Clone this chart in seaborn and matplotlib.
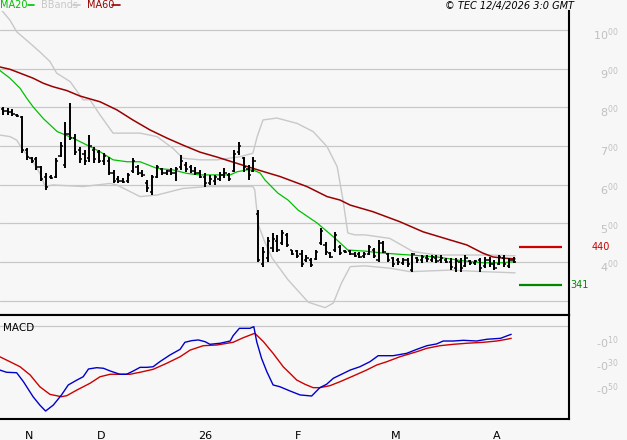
import matplotlib
matplotlib.use("Agg")
import matplotlib.pyplot as plt
import matplotlib.transforms as mtransforms
from matplotlib.lines import Line2D
import numpy as np
import pandas as pd
import seaborn as sns

# daily OHLC bars (one per session, left to right)
opens = [7.95, 7.90, 7.88, 7.80, 7.75, 6.90, 6.70, 6.65, 6.45, 6.20,
         6.20, 6.20, 6.75, 6.50, 7.30, 7.20, 6.90, 6.80, 6.70, 6.90,
         6.85, 6.60, 6.60, 6.30, 6.15, 6.10, 6.08, 6.35, 6.45, 6.30,
         6.05, 5.80, 6.20, 6.40, 6.30, 6.35, 6.30, 6.45, 6.50, 6.45,
         6.35, 6.30, 6.20, 6.05, 6.10, 6.15, 6.25, 6.25, 6.35, 6.85,
         6.70, 6.40, 6.35, 5.25, 3.95, 4.10, 4.35, 4.55, 4.50, 4.70,
         4.30, 4.28, 4.20, 4.05, 4.05, 4.08, 4.50, 4.45, 4.22, 4.30,
         4.40, 4.28, 4.28, 4.20, 4.20, 4.15, 4.20, 4.30, 4.05, 4.50,
         4.20, 4.10, 4.05, 3.98, 4.05, 3.80, 4.10, 4.05, 4.10, 4.05,
         4.10, 4.05, 4.05, 4.00, 3.85, 4.00, 3.90, 4.02, 3.97, 4.05,
         3.90, 4.05, 3.95, 3.95, 4.10, 3.90, 4.05]
highs = [8.01, 7.97, 7.95, 7.82, 7.77, 6.94, 6.72, 6.72, 6.48, 6.29,
         6.25, 6.68, 7.11, 7.63, 8.10, 7.32, 6.98, 6.90, 7.28, 6.98,
         6.90, 6.81, 6.72, 6.38, 6.21, 6.16, 6.29, 6.68, 6.51, 6.38,
         6.12, 6.25, 6.51, 6.42, 6.38, 6.42, 6.46, 6.77, 6.59, 6.51,
         6.46, 6.38, 6.29, 6.25, 6.25, 6.33, 6.42, 6.29, 6.89, 7.11,
         6.72, 6.51, 6.72, 5.34, 4.40, 4.65, 4.74, 4.70, 4.83, 4.74,
         4.31, 4.31, 4.31, 4.18, 4.10, 4.31, 4.88, 4.52, 4.27, 4.78,
         4.44, 4.31, 4.31, 4.27, 4.27, 4.27, 4.44, 4.35, 4.57, 4.55,
         4.22, 4.14, 4.10, 4.10, 4.10, 4.22, 4.14, 4.18, 4.18, 4.18,
         4.18, 4.18, 4.10, 4.10, 4.10, 4.10, 4.18, 4.05, 4.05, 4.10,
         4.14, 4.14, 4.05, 4.18, 4.18, 4.10, 4.14]
lows = [7.80, 7.80, 7.76, 7.75, 6.81, 6.64, 6.55, 6.38, 6.08, 5.86,
        6.14, 6.16, 6.72, 6.42, 7.15, 6.77, 6.55, 6.51, 6.59, 6.55,
        6.55, 6.51, 6.25, 6.03, 6.03, 6.03, 6.05, 6.29, 6.25, 6.20,
        5.82, 5.73, 6.16, 6.25, 6.25, 6.25, 6.08, 6.38, 6.33, 6.29,
        6.25, 6.16, 5.95, 5.99, 5.99, 6.08, 6.16, 6.08, 6.33, 6.76,
        6.33, 6.12, 6.33, 4.00, 3.88, 4.01, 4.27, 4.27, 4.44, 4.40,
        4.18, 4.10, 3.88, 4.01, 3.87, 4.05, 4.44, 4.18, 4.10, 4.27,
        4.18, 4.23, 4.18, 4.12, 4.10, 4.10, 4.18, 4.10, 4.00, 4.22,
        4.01, 3.88, 3.92, 3.92, 3.88, 3.75, 3.97, 3.97, 4.01, 4.01,
        3.97, 3.97, 3.97, 3.79, 3.75, 3.75, 3.88, 3.92, 3.92, 3.75,
        3.84, 3.88, 3.79, 3.92, 3.88, 3.84, 3.97]
closes = [7.90, 7.88, 7.82, 7.78, 6.90, 6.72, 6.60, 6.45, 6.15, 5.95,
          6.18, 6.60, 7.00, 7.30, 7.20, 6.85, 6.65, 6.60, 7.00, 6.65,
          6.60, 6.75, 6.30, 6.10, 6.08, 6.06, 6.25, 6.60, 6.30, 6.25,
          5.90, 6.20, 6.45, 6.30, 6.35, 6.30, 6.40, 6.60, 6.40, 6.35,
          6.30, 6.20, 6.05, 6.15, 6.20, 6.25, 6.30, 6.15, 6.80, 7.00,
          6.45, 6.25, 6.60, 4.05, 4.25, 4.55, 4.60, 4.30, 4.75, 4.45,
          4.20, 4.15, 3.95, 4.10, 3.92, 4.25, 4.80, 4.25, 4.12, 4.70,
          4.22, 4.25, 4.20, 4.15, 4.13, 4.20, 4.38, 4.15, 4.50, 4.25,
          4.05, 3.95, 4.00, 4.05, 3.95, 4.20, 4.05, 4.12, 4.08, 4.12,
          4.02, 4.10, 4.00, 3.88, 4.02, 3.85, 4.10, 3.97, 4.02, 3.85,
          4.05, 3.95, 3.85, 4.12, 3.95, 4.05, 4.00]

# MA20 / MA60 / Bollinger bands, read at (bar index, value)
ma20_idx = [-0.6, 1.5, 3.6, 5.0, 6.3, 8.4, 11.3, 14.6, 17.5, 20.2, 22.9, 25.8,
            28.5, 32.0, 35.3, 38.2, 40.9, 43.6, 47.2, 48.6, 50.7, 51.9, 53.4,
            54.4, 57.1, 59.2, 61.3, 65.2, 68.9, 71.6, 75.2, 78.9, 84.5, 90.1,
            95.5, 99.6, 103.8, 106.3]
ma20_val = [8.95, 8.75, 8.49, 8.23, 8.01, 7.71, 7.37, 7.20, 7.02, 6.85, 6.64, 6.59,
            6.59, 6.42, 6.38, 6.29, 6.25, 6.25, 6.25, 6.33, 6.38, 6.38, 6.30,
            6.12, 5.78, 5.60, 5.34, 5.01, 4.62, 4.31, 4.28, 4.23, 4.18, 4.13,
            4.03, 3.98, 3.98, 4.01]
ma60_idx = [-0.6, 1.5, 3.6, 6.3, 8.4, 10.4, 13.3, 16.0, 20.2, 23.7, 27.0, 30.6,
            34.1, 37.4, 40.9, 44.5, 47.8, 51.9, 54.8, 57.5, 63.1, 67.3, 70.0,
            72.1, 76.8, 82.4, 87.2, 92.8, 96.3, 99.6, 101.7, 103.8, 106.3]
ma60_val = [9.04, 8.98, 8.88, 8.75, 8.62, 8.53, 8.43, 8.29, 8.14, 7.93, 7.67, 7.41,
            7.20, 7.02, 6.84, 6.71, 6.58, 6.42, 6.31, 6.21, 5.95, 5.69, 5.60,
            5.47, 5.30, 5.04, 4.78, 4.57, 4.44, 4.23, 4.13, 4.10, 4.08]
bb_up_idx = [-0.6, 1.5, 2.9, 5.7, 7.7, 9.8, 11.2, 14.0, 16.7, 18.1, 20.2, 22.9,
             28.5, 32.0, 35.3, 37.4, 40.9, 44.5, 49.2, 51.9, 52.8, 54.0, 56.9,
             61.1, 64.4, 67.3, 69.4, 70.6, 71.6, 73.1, 75.2, 80.3, 85.1, 90.1,
             96.3, 101.1, 106.3]
bb_up_val = [10.56, 10.25, 9.95, 9.65, 9.43, 9.18, 8.88, 8.66, 8.19, 8.19, 7.80, 7.33,
             7.33, 7.24, 6.94, 6.68, 6.64, 6.64, 6.72, 6.81, 7.24, 7.67, 7.72,
             7.58, 7.37, 6.98, 6.46, 5.60, 4.75, 4.70, 4.70, 4.61, 4.27, 4.18,
             4.18, 4.18, 4.16]
bb_lo_idx = [-0.6, 1.5, 2.9, 4.2, 6.3, 7.7, 8.8, 10.4, 16.7, 22.3, 23.7, 28.5,
             32.0, 37.4, 42.4, 51.9, 52.3, 53.0, 54.2, 55.9, 59.2, 63.4, 66.9,
             68.6, 70.3, 72.1, 75.2, 80.3, 84.5, 92.8, 99.6, 106.3]
bb_lo_val = [7.28, 7.24, 7.15, 6.89, 6.59, 6.29, 5.95, 5.99, 5.95, 6.03, 5.99, 5.69,
             5.73, 5.90, 5.95, 5.95, 5.86, 4.98, 4.57, 4.10, 3.54, 2.96, 2.82,
             2.94, 3.46, 3.88, 3.90, 3.84, 3.75, 3.79, 3.75, 3.72]

# MACD and signal line, read at (bar index, value)
macd_idx = [-0.6, 0.8, 2.9, 4.3, 6.3, 7.7, 8.9, 10.5, 12.2, 13.6, 15.4, 16.7,
            17.8, 19.5, 20.9, 22.3, 24.3, 25.7, 27.1, 28.5, 29.9, 31.2, 32.6,
            34.7, 36.8, 37.8, 39.2, 40.6, 42.0, 43.0, 45.1, 47.2, 47.8, 49.1,
            51.3, 52.1, 52.7, 53.7, 54.8, 56.1, 57.5, 59.6, 61.7, 64.1, 65.8,
            67.2, 68.6, 70.0, 72.1, 74.1, 76.2, 77.9, 81.0, 83.8, 85.9, 88.0,
            90.0, 91.4, 93.5, 95.6, 98.3, 100.5, 103.3, 104.7, 105.5]
macd_val = [-0.379, -0.398, -0.402, -0.478, -0.606, -0.677, -0.728, -0.677,
            -0.591, -0.506, -0.464, -0.436, -0.370, -0.359, -0.364, -0.387,
            -0.415, -0.415, -0.387, -0.356, -0.356, -0.351, -0.308, -0.251,
            -0.203, -0.143, -0.129, -0.123, -0.138, -0.160, -0.151, -0.132,
            -0.087, -0.024, -0.024, -0.010, -0.138, -0.279, -0.393, -0.506,
            -0.521, -0.557, -0.591, -0.600, -0.529, -0.500, -0.449, -0.421,
            -0.379, -0.351, -0.308, -0.257, -0.257, -0.237, -0.203, -0.172,
            -0.157, -0.132, -0.132, -0.126, -0.132, -0.117, -0.109, -0.087,
            -0.075]
signal_idx = [-0.6, 1.5, 3.6, 5.7, 7.7, 9.8, 12.2, 13.3, 15.4, 18.1, 20.2, 22.3,
              26.4, 28.5, 31.2, 34.0, 36.8, 38.9, 41.6, 44.4, 47.8, 49.9, 52.3,
              54.1, 56.1, 58.2, 59.6, 61.0, 62.7, 64.4, 65.8, 67.9, 70.0, 72.7,
              75.5, 77.6, 79.7, 82.4, 85.9, 88.0, 90.7, 93.5, 96.3, 99.7, 102.5,
              104.6, 105.5]
signal_val = [-0.266, -0.308, -0.351, -0.421, -0.521, -0.586, -0.606, -0.597,
              -0.549, -0.492, -0.436, -0.415, -0.415, -0.398, -0.373, -0.322,
              -0.266, -0.209, -0.172, -0.166, -0.143, -0.104, -0.066, -0.138,
              -0.237, -0.351, -0.407, -0.464, -0.500, -0.529, -0.529, -0.512,
              -0.478, -0.430, -0.379, -0.336, -0.308, -0.266, -0.223, -0.194,
              -0.172, -0.160, -0.151, -0.143, -0.132, -0.117, -0.109]

month_pos = [4, 19, 40, 60, 80, 101]
month_labels = ["N", "D", "26", "F", "M", "A"]
price_ticks = [4, 5, 6, 7, 8, 9, 10]
macd_ticks = [-0.1, -0.3, -0.5]
levels = [4.40, 3.41]
level_labels = ["440", "341"]

bg = "#f7f7f7"
grid_c = "#c8c8c8"
green = "#00c000"
dark_red = "#990000"
band_c = "#c8c8c8"

sns.set_style("white", {"axes.facecolor": bg, "figure.facecolor": bg})
plt.rcParams["font.family"] = ["DejaVu Sans"]

fig = plt.figure(figsize=(6.27, 4.40), dpi=100)
W, H = 627.0, 440.0
ax = fig.add_axes([0, 1 - 315 / H, 569 / W, (315 - 11) / H])
ax2 = fig.add_axes([0, 1 - 419 / H, 569 / W, 104 / H])

idx = np.arange(len(opens))
bars = pd.DataFrame({"i": idx, "o": opens, "h": highs, "l": lows, "c": closes})

# --- price pane ---
sns.lineplot(x=bb_up_idx, y=bb_up_val, ax=ax, color=band_c, lw=1, sort=False, estimator=None)
sns.lineplot(x=bb_lo_idx, y=bb_lo_val, ax=ax, color=band_c, lw=1, sort=False, estimator=None)
sns.lineplot(x=ma60_idx, y=ma60_val, ax=ax, color=dark_red, lw=1.1, sort=False, estimator=None)
sns.lineplot(x=ma20_idx, y=ma20_val, ax=ax, color=green, lw=0.9, sort=False, estimator=None)
ax.vlines(bars["i"], bars["l"], bars["h"], color="black", lw=1.4)
ax.hlines(bars["o"], bars["i"] - 0.45, bars["i"], color="black", lw=1.1)
ax.hlines(bars["c"], bars["i"], bars["i"] + 0.45, color="black", lw=1.1)

ax.hlines(levels[0], 107.2, 116.0, color="#cc0000", lw=1.6)
ax.hlines(levels[1], 107.2, 116.0, color="#008800", lw=1.6)

xlim = (-0.56, 117.49)
ax.set_xlim(xlim)
ax.set_ylim(2.63, 10.486)
ax.set_yticks(range(3, 11))
ax.set_xticks([])
ax.grid(axis="y", color=grid_c, lw=0.9)
ax.set_axisbelow(True)
ax.tick_params(length=0, labelleft=False, labelbottom=False)
ax.set_xlabel("")
ax.set_ylabel("")
for s in ["left", "top"]:
    ax.spines[s].set_visible(False)
for s in ["right", "bottom"]:
    ax.spines[s].set_color("black")
    ax.spines[s].set_linewidth(1.5)

down5 = mtransforms.ScaledTranslation(0, -0.05, fig.dpi_scale_trans)
tr = mtransforms.blended_transform_factory(ax.transAxes, ax.transData)
for v in price_ticks:
    ax.text(619 / 569, v, r"$\mathregular{%d^{00}}$" % v, transform=tr + down5,
            ha="right", va="center", fontsize=8, color="#c0c0c0", clip_on=False)
ax.text(601 / 569, levels[0], level_labels[0], transform=tr, ha="center", va="center",
        fontsize=7, color="#cc0000", clip_on=False)
ax.text(570 / 569, levels[1], level_labels[1], transform=tr, ha="left", va="center",
        fontsize=7, color="#008800", clip_on=False)

# --- MACD pane ---
sns.lineplot(x=signal_idx, y=signal_val, ax=ax2, color="#cc0000", lw=1.0, sort=False, estimator=None)
sns.lineplot(x=macd_idx, y=macd_val, ax=ax2, color="#0000cc", lw=1.0, sort=False, estimator=None)
ax2.set_xlim(xlim)
ax2.set_ylim(-0.7957, 0.0894)
ax2.set_yticks([0])
ax2.grid(axis="y", color=grid_c, lw=0.9)
ax2.set_axisbelow(True)
ax2.set_xticks(month_pos)
ax2.tick_params(axis="x", direction="out", length=15, width=1, color="black",
                labelbottom=False)
ax2.tick_params(axis="y", length=0, labelleft=False)
ax2.set_xlabel("")
ax2.set_ylabel("")
ax2.spines["left"].set_visible(False)
for s in ["right", "bottom", "top"]:
    ax2.spines[s].set_color("black")
    ax2.spines[s].set_linewidth(1.5)

tr2 = mtransforms.blended_transform_factory(ax2.transAxes, ax2.transData)
for v in macd_ticks:
    ax2.text(619 / 569, v, r"-$\mathregular{0^{%d}}$" % round(abs(v) * 100),
             transform=tr2 + down5, ha="right", va="center", fontsize=8,
             color="#c0c0c0", clip_on=False)
ax2.text(0.005, 0.875, "MACD", transform=ax2.transAxes, ha="left", va="center",
         fontsize=7.5, color="black")

right3 = mtransforms.ScaledTranslation(0.03, 0, fig.dpi_scale_trans)
trx = mtransforms.blended_transform_factory(ax2.transData, ax2.transAxes)
for p, lab in zip(month_pos, month_labels):
    ax2.text(p, -0.165, lab, transform=trx + right3, ha="left", va="center",
             fontsize=8, color="black", clip_on=False)

# --- header ---
ty = 1 - 5.5 / H
fig.text(0 / W, ty, "MA20", color=green, fontsize=7, ha="left", va="center")
fig.add_artist(Line2D([28 / W, 34 / W], [ty, ty], color=green, lw=1.2))
fig.text(41 / W, ty, "BBands", color=band_c, fontsize=7, ha="left", va="center")
fig.add_artist(Line2D([73 / W, 80 / W], [ty, ty], color=band_c, lw=1.2))
fig.text(87 / W, ty, "MA60", color=dark_red, fontsize=7, ha="left", va="center")
fig.add_artist(Line2D([112 / W, 120 / W], [ty, ty], color=dark_red, lw=1.2))
fig.text(574 / W, ty, "\u00a9 TEC 12/4/2026 3:0 GMT", color="black", fontsize=7,
         style="italic", ha="right", va="center")

fig.savefig("out.png", dpi=100, facecolor=bg)
